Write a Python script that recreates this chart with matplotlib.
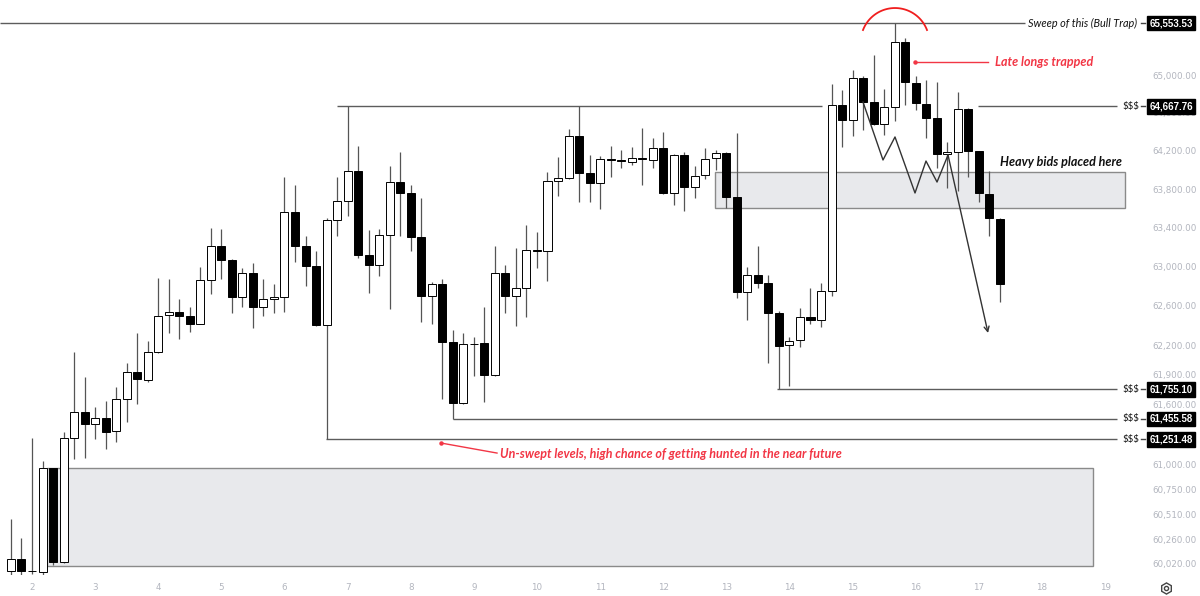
import numpy as np
import matplotlib
matplotlib.use("Agg")
import matplotlib.pyplot as plt
import matplotlib.transforms as mtransforms
from matplotlib.patches import Rectangle
from matplotlib.lines import Line2D
from matplotlib.ticker import FixedLocator, FuncFormatter, NullLocator

# 4h candles, oldest first
opens = [59951, 60068, 59955, 59941, 60966, 60039, 61265, 61525, 61405, 61465,
         61335, 61656, 61928, 61847, 62130, 62506, 62537, 62496, 62414, 62864,
         63213, 63069, 62690, 62936, 62588, 62669, 62690, 63565, 63213, 63007,
         62404, 63482, 63679, 63991, 63121, 63018, 63327, 63876, 63762, 63306,
         62700, 62823, 62232, 61616, 62211, 62221, 61898, 62936, 62700, 62782,
         63172, 63162, 63887, 63918, 64357, 63970, 63866, 64116, 64106, 64085,
         64127, 64106, 64231, 63762, 64158, 63824, 63949, 64127, 64179, 63720,
         62741, 62915, 62833, 62527, 62201, 62252, 62486, 62455, 62751, 64683,
         64525, 64968, 64715, 64483, 64662, 65351, 64916, 64694, 64546, 64168,
         64189, 64641, 64200, 63751, 63492]
highs = [60461, 60274, 61265, 61036, 60970, 61325, 62130, 61877, 61576, 61636,
         61777, 62019, 62323, 62242, 62884, 62874, 62669, 62588, 62997, 63399,
         63389, 63075, 62987, 63038, 62874, 62823, 63928, 63845, 63317, 63162,
         63502, 63928, 64667.76, 64252, 63378, 63389, 64043, 64189, 63845, 63710,
         62843, 62874, 62353, 62323, 62282, 62588, 63213, 63018, 63193, 63430,
         63358, 63980, 64137, 64430, 64667.76, 64158, 64148, 64252, 64210, 64242,
         64441, 64336, 64399, 64165, 64189, 64043, 64231, 64210, 64189, 64389,
         62997, 63213, 62915, 62547, 62282, 62578, 62782, 62833, 64905, 64841,
         65053, 64990, 65213, 64852, 65553.53, 65394, 64990, 64947, 64926, 64294,
         64820, 64652, 64205, 63991, 63500]
lows = [59905, 59905, 59922, 59915, 60010, 60029, 61056, 61066, 61255, 61155,
        61225, 61425, 61606, 61827, 62120, 62323, 62262, 62333, 62410, 62720,
        62874, 62527, 62588, 62374, 62496, 62527, 62537, 63049, 62802, 62395,
        61251.48, 63316, 63523, 63090, 62731, 62905, 62567, 63316, 63162, 62435,
        62414, 61656, 61455.58, 61610, 61888, 61626, 61888, 62527, 62394, 62486,
        62987, 62854, 63731, 63907, 63668, 63668, 63596, 63928, 64022, 64054,
        63845, 64022, 63755, 63637, 63575, 63710, 63907, 64001, 63606, 62680,
        62455, 62782, 62019, 61755.10, 61787, 62181, 62414, 62384, 62700, 64242,
        64357, 64420, 64472, 64368, 64515, 64683, 64630, 64336, 64022, 63814,
        63783, 63928, 63668, 63316, 62639]
closes = [60068, 59951, 59951, 60966, 60039, 61265, 61525, 61405, 61465, 61325,
          61656, 61928, 61857, 62130, 62496, 62537, 62496, 62414, 62864, 63213,
          63069, 62690, 62936, 62588, 62669, 62690, 63565, 63213, 63007, 62404,
          63482, 63679, 63991, 63121, 63018, 63327, 63876, 63762, 63306, 62700,
          62823, 62232, 61616, 62211, 62216, 61898, 62936, 62700, 62782, 63172,
          63166, 63887, 63918, 64357, 63970, 63866, 64116, 64106, 64095, 64127,
          64116, 64231, 63762, 64158, 63824, 63939, 64116, 64179, 63720, 62741,
          62915, 62833, 62527, 62191, 62242, 62486, 62455, 62751, 64683, 64525,
          64968, 64715, 64483, 64662, 65351, 64926, 64704, 64546, 64168, 64189,
          64641, 64200, 63762, 63502, 62823]

first_day = 2 - 2 / 6   # first bar sits two 4h bars before the "2" mark
bar_step = 1 / 6

day_ticks = list(range(2, 20))
price_ticks = [60020, 60260, 60510, 60750, 61000, 61600, 61900, 62200,
               62600, 63000, 63400, 63800, 64200, 64600, 65000]

sweep_level = 65553.53
liq_levels = [64667.76, 61755.10, 61455.58, 61251.48]
bids_zone = (63606, 63980)
demand_zone = (60000, 60966)

RED = '#f23645'
AXIS_TXT = '#b2b5be'
LINE = '#5c5c5c'

plt.rcParams['font.family'] = ['DejaVu Sans']
NOTE_FONT = ['Lato', 'DejaVu Sans']

fig = plt.figure(figsize=(12, 5.96), dpi=100)
ax = fig.add_axes([0, 21 / 596, 1143 / 1200, 575 / 596])
ax.set_yscale('log')
ax.set_xlim(1.493, 19.601)
ax.set_ylim(59912, 65800)

# zones
ax.add_patch(Rectangle((12.82, bids_zone[0]), 19.317 - 12.82, bids_zone[1] - bids_zone[0],
                       fc='#e8e9ec', ec='#8a8a8a', lw=1, zorder=1))
ax.add_patch(Rectangle((2.238, demand_zone[0]), 18.81 - 2.238, demand_zone[1] - demand_zone[0],
                       fc='#e8e9ec', ec='#8a8a8a', lw=1, zorder=1))

# horizontal levels
ax.hlines(sweep_level, 1.493, 17.73, color=LINE, lw=1, zorder=1.5)
ax.hlines(liq_levels[0], 6.83, 14.52, color=LINE, lw=1, zorder=1.5)
ax.hlines(liq_levels[0], 16.99, 19.19, color=LINE, lw=1, zorder=1.5)
ax.hlines(liq_levels[1], 13.80, 19.19, color=LINE, lw=1, zorder=1.5)
ax.hlines(liq_levels[2], 8.67, 19.19, color=LINE, lw=1, zorder=1.5)
ax.hlines(liq_levels[3], 6.66, 19.19, color=LINE, lw=1, zorder=1.5)

# candles
days = first_day + bar_step * np.arange(len(opens))
o = np.array(opens, dtype=float)
c = np.array(closes, dtype=float)
up = c >= o
ax.vlines(days, lows, highs, color='#555555', lw=0.9, zorder=3)
ax.bar(days, np.maximum(np.abs(c - o), 2), bottom=np.minimum(o, c), width=0.127,
       color=np.where(up, 'white', 'black'), edgecolor='black', lw=0.7, zorder=4)

# zigzag path + arrow
zz_day = [15.165, 15.482, 15.672, 15.989, 16.163, 16.338, 16.512]
zz_px = [64715, 64106, 64347, 63762, 64095, 63876, 64158]
ax.plot(zz_day, zz_px, color='#333333', lw=1, zorder=5)
ax.annotate('', xy=(17.146, 62323), xytext=(16.512, 64158),
            arrowprops=dict(arrowstyle='->', color='#333333', lw=1,
                            mutation_scale=9, shrinkA=0, shrinkB=0), zorder=5)

# red arc over the sweep high
th = np.radians(np.linspace(21, 159, 60))
ax.plot(15.672 + 0.543 * np.cos(th), 65347.6 * np.exp(0.00559 * np.sin(th)),
        color='#f01e1e', lw=1.3, zorder=6, clip_on=False)

# notes
ax.text(17.78, sweep_level, 'Sweep of this (Bull Trap)', ha='left', va='center',
        fontsize=7.8, style='italic', family=NOTE_FONT, color='#111111', zorder=7)
ax.plot([15.989], [65138], 'o', ms=2.2, color=RED, zorder=7)
ax.plot([15.989, 17.146], [65138, 65138], color=RED, lw=1, zorder=7)
ax.text(17.257, 65138, 'Late longs trapped', ha='left', va='center', fontsize=9,
        style='italic', weight='bold', family=NOTE_FONT, color=RED, zorder=7)
ax.text(17.336, 64085, 'Heavy bids placed here', ha='left', va='center', fontsize=9,
        style='italic', weight='bold', family=NOTE_FONT, color='#111111', zorder=7)
ax.plot([8.48], [61215], 'o', ms=2.2, color=RED, zorder=7)
ax.plot([8.48, 9.367], [61215, 61115], color=RED, lw=1, zorder=7)
ax.text(9.414, 61106, 'Un-swept levels, high chance of getting hunted in the near future',
        ha='left', va='center', fontsize=9, style='italic', weight='bold',
        family=NOTE_FONT, color=RED, zorder=7)
for lv in liq_levels:
    ax.text(19.538, lv, '$$$', ha='right', va='center', fontsize=7,
            family=NOTE_FONT, color='#111111', zorder=7)

# price tags on the right scale
tag_tf = mtransforms.blended_transform_factory(ax.transAxes, ax.transData)
for lv in [sweep_level] + liq_levels:
    ax.plot([0.9985, 1.0015], [lv, lv], color='#444444', lw=1,
            transform=tag_tf, clip_on=False, zorder=9)
    ax.text(1.0055, lv, f'{lv:,.2f}', transform=tag_tf, ha='left', va='center',
            fontsize=7, weight='bold', color='white', family=['Liberation Sans'],
            bbox=dict(boxstyle='square,pad=0.25', fc='black', ec='black'),
            clip_on=False, zorder=10)

# axes styling
ax.yaxis.tick_right()
ax.yaxis.set_major_locator(FixedLocator(price_ticks))
ax.yaxis.set_minor_locator(NullLocator())
ax.yaxis.set_major_formatter(FuncFormatter(lambda v, _: f'{v:,.2f}'))
ax.set_xticks(day_ticks)
ax.tick_params(axis='y', length=0, pad=7, labelsize=6.3, labelcolor=AXIS_TXT)
ax.tick_params(axis='x', length=0, pad=6, labelsize=6.3, labelcolor=AXIS_TXT)
for s in ax.spines.values():
    s.set_visible(False)

# settings gear in the corner
fig.add_artist(Line2D([1166 / 1200], [1 - 588 / 596], marker='h', ms=8, mfc='none',
                      mec='#444444', mew=1, transform=fig.transFigure))
fig.add_artist(Line2D([1166 / 1200], [1 - 588 / 596], marker='o', ms=3, mfc='none',
                      mec='#444444', mew=1, transform=fig.transFigure))

fig.savefig('out.png', dpi=100)
